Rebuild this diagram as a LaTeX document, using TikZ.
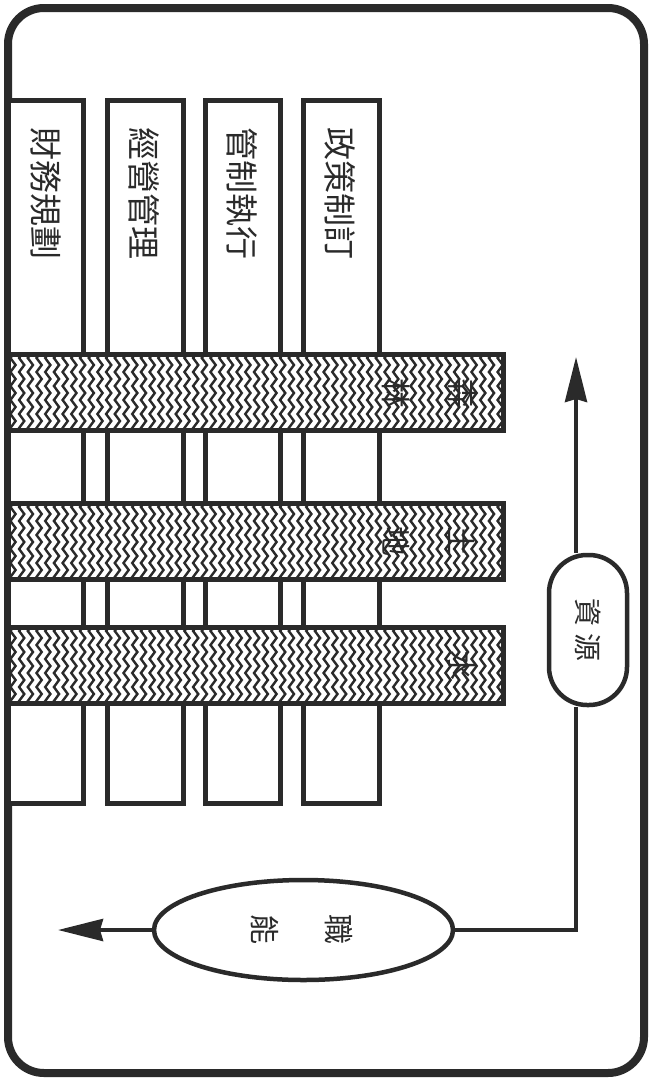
\documentclass[tikz,border=0pt]{standalone}
\usepackage{fontspec}
\usepackage{graphicx}
\newfontfamily\cjk{Noto Sans CJK TC}
\usetikzlibrary{arrows.meta,decorations.pathmorphing,shapes.geometric,backgrounds}
\definecolor{ink}{HTML}{2A2A2A}
\tikzset{
  frame/.style={draw=ink, line width=8pt, rounded corners=36pt, inner sep=0pt},
  colbox/.style={draw=ink, fill=white, line width=5pt, inner sep=0pt, minimum height=703pt},
  coltext/.style={inner sep=0pt, text=ink, font=\cjk\fontsize{33}{33}\selectfont, rotate=-90},
  bartext/.style={inner sep=0pt, text=ink, font=\cjk\fontsize{30}{30}\selectfont, rotate=-90},
  wavebar/.style={draw=ink, fill=white, line width=5pt, inner sep=0pt, minimum width=495pt, minimum height=76pt,
    path picture={
      \foreach \i in {0,...,58}{
        \draw[ink, line width=2.4pt, decorate, decoration={zigzag, segment length=14pt, amplitude=2.6pt}]
          ([xshift={\i*8.7pt+5pt}, yshift=7pt]path picture bounding box.north west) --
          ([xshift={\i*8.7pt+5pt}, yshift=-7pt]path picture bounding box.south west);
      }
    }},
  stadium/.style={draw=ink, fill=white, line width=4.5pt, rounded corners=38pt, minimum width=78pt, minimum height=150pt, inner sep=0pt},
  oval/.style={draw=ink, fill=white, ellipse, line width=4.5pt, minimum width=299pt, minimum height=100pt, inner sep=0pt},
  conn/.style={draw=ink, line width=4pt},
  tip/.style={-{Stealth[length=45pt, width=22pt, inset=3pt]}}
}
\begin{document}
\begin{tikzpicture}[x=1pt, y=-1pt]
\useasboundingbox (0,0) rectangle (652,1084);
\begin{pgfonlayer}{background}
\fill[white] (0,0) rectangle (652,1084);
\end{pgfonlayer}

% outer frame
\node[frame, minimum width=636pt, minimum height=1065pt] (frame) at (326,540.5) {};

% columns
\node[colbox, minimum width=75pt] (c1) at (45.5,451.5) {};
\node[colbox, minimum width=76pt] (c2) at (145,451.5) {};
\node[colbox, minimum width=75pt] (c3) at (242.5,451.5) {};
\node[colbox, minimum width=76pt] (c4) at (341,451.5) {};
\node[coltext] (t1) at (46,193) {財務規劃};
\node[coltext] (t2) at (144,193) {經營管理};
\node[coltext] (t3) at (242,193) {管制執行};
\node[coltext] (t4) at (340,193) {政策制訂};

% wave bars
\node[wavebar] (b1) at (255.5,392.5) {};
\node[wavebar] (b2) at (255.5,541.5) {};
\node[wavebar] (b3) at (255.5,665.5) {};
\node[bartext] (s1) at (462,393) {森};
\node[bartext] (s2) at (396,393) {林};
\node[bartext] (s3) at (462,541) {土};
\node[bartext] (s4) at (396,541) {地};
\node[bartext] (s5) at (462,665) {水};

% resources and function
\node[stadium] (res) at (588,630) {\rotatebox{-90}{\cjk\fontsize{28}{28}\selectfont\color{ink}資\hspace{8pt}源}};
\node[oval] (func) at (303.5,930) {};
\node[bartext] (f1) at (339,929) {職};
\node[bartext] (f2) at (265,929) {能};

\coordinate (turn) at (576,930);
\coordinate (up) at (576,357);
\coordinate (left) at (58,930);

\begin{pgfonlayer}{background}
\draw[conn] (func.east) -- (turn) -- (turn |- res.south);
\draw[conn, tip] (turn |- res.north) -- (up);
\draw[conn, tip] (func.west) -- (left);
\end{pgfonlayer}
\end{tikzpicture}
\end{document}
